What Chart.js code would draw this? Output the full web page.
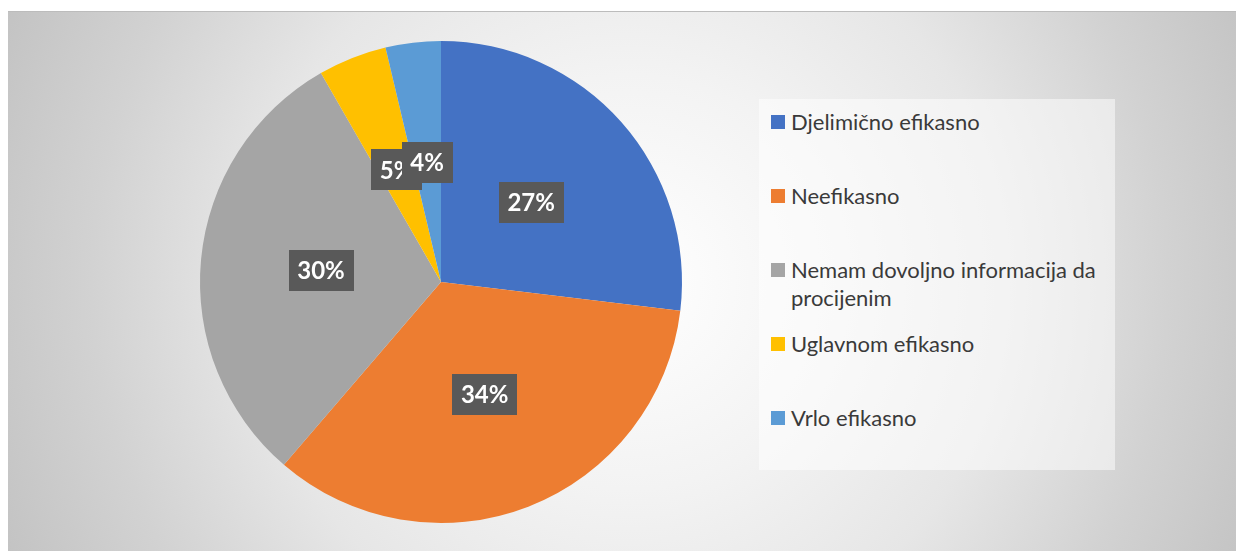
<!DOCTYPE html>
<html>
<head>
<meta charset="utf-8">
<script src="https://cdn.jsdelivr.net/npm/chart.js@4"></script>
<style>
  html, body { margin: 0; padding: 0; background: #ffffff; width: 1236px; height: 551px; overflow: hidden; }
  #frame {
    position: absolute; left: 8px; top: 11px; width: 1240px; height: 545px;
    border-top: 1px solid #bcbcbc;
    background: radial-gradient(circle 690px at 622px 270px, #ffffff 0%, #f3f3f3 30%, #e6e6e6 55%, #d2d2d2 78%, #c2c2c2 100%);
  }
  #pie { position: absolute; left: 174px; top: 11px; }
  #legend {
    position: absolute; left: 751px; top: 87px; width: 356px; height: 371px;
    background: rgba(255,255,255,0.5);
  }
  .item { position: absolute; left: 12px; width: 340px; height: 74px;
    font-family: Lato, "Open Sans", sans-serif; font-size: 22px; line-height: 28px; color: #3a3a3a; }
  .sw { position: absolute; left: 0; top: 7px; width: 14px; height: 14px; }
  .tx { position: absolute; left: 20px; top: 0; width: 322px; }
</style>
</head>
<body>
<div id="frame">
  <canvas id="pie" width="518" height="518"></canvas>
  <div id="legend"></div>
</div>
<script>
const categories = ["Djelimično efikasno", "Neefikasno", "Nemam dovoljno informacija da procijenim", "Uglavnom efikasno", "Vrlo efikasno"];
const values = [26.9, 34.4, 30.4, 4.6, 3.7];
const percentLabels = ["27%", "34%", "30%", "5%", "4%"];
const colors = ["#4472C4", "#ED7D31", "#A5A5A5", "#FFC000", "#5B9BD5"];

// HTML legend built from the categories
const legend = document.getElementById('legend');
categories.forEach((c, i) => {
  const it = document.createElement('div');
  it.className = 'item';
  it.style.top = (9 + 74 * i) + 'px';
  const sw = document.createElement('div');
  sw.className = 'sw';
  sw.style.background = colors[i];
  const tx = document.createElement('div');
  tx.className = 'tx';
  tx.textContent = c;
  it.appendChild(sw); it.appendChild(tx);
  legend.appendChild(it);
});

const labelPlugin = {
  id: 'boxLabels',
  afterDatasetsDraw(chart) {
    const ctx = chart.ctx;
    const meta = chart.getDatasetMeta(0);
    ctx.save();
    ctx.font = 'bold 24px Lato, "Open Sans", sans-serif';
    ctx.textAlign = 'center';
    ctx.textBaseline = 'middle';
    meta.data.forEach((arc, i) => {
      const p = arc.getCenterPoint();
      const t = percentLabels[i];
      const w = ctx.measureText(t).width + 17;
      const h = 41;
      ctx.fillStyle = '#595959';
      ctx.fillRect(Math.round(p.x - w / 2), Math.round(p.y - h / 2), Math.round(w), h);
      ctx.fillStyle = '#ffffff';
      ctx.fillText(t, p.x, p.y + 1);
    });
    ctx.restore();
  }
};

new Chart(document.getElementById('pie'), {
  type: 'pie',
  data: {
    labels: categories,
    datasets: [{
      data: values,
      backgroundColor: colors,
      borderWidth: 0,
      hoverOffset: 0,
      offset: 0
    }]
  },
  options: {
    responsive: false,
    animation: false,
    events: [],
    layout: { padding: 18 },
    plugins: { legend: { display: false }, tooltip: { enabled: false } }
  },
  plugins: [labelPlugin]
});
</script>
</body>
</html>
